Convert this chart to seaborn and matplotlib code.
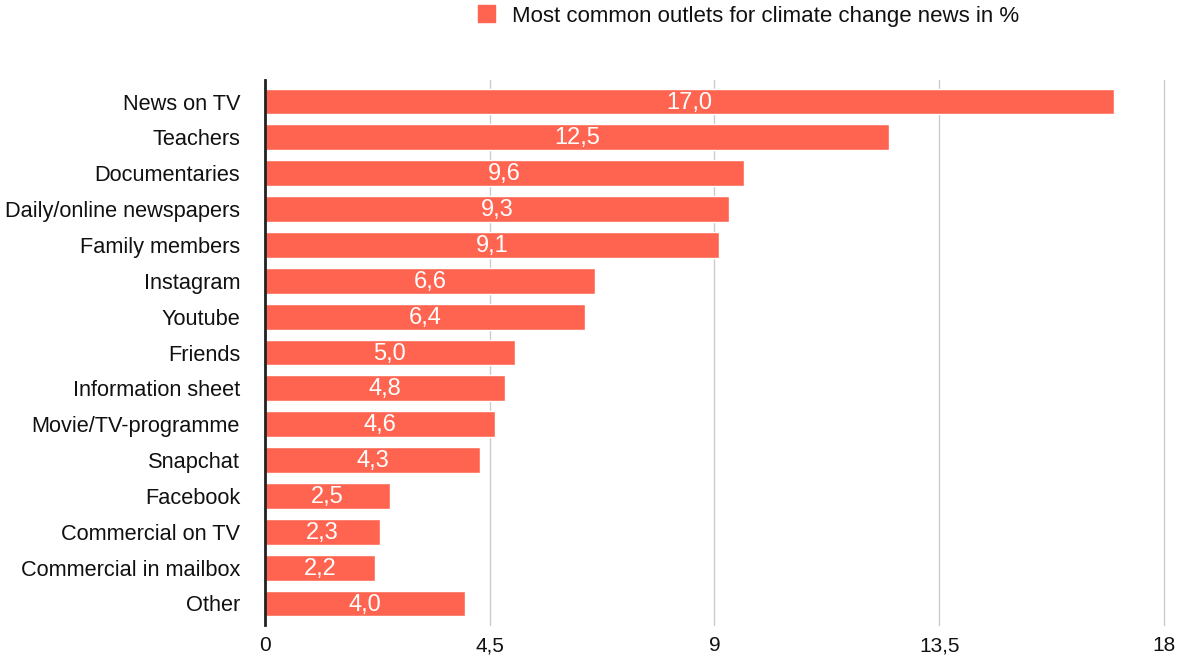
import matplotlib
matplotlib.use("Agg")
import matplotlib.pyplot as plt
from matplotlib.patches import Patch
import seaborn as sns
import pandas as pd

categories = ["News on TV", "Teachers", "Documentaries", "Daily/online newspapers",
              "Family members", "Instagram", "Youtube", "Friends", "Information sheet",
              "Movie/TV-programme", "Snapchat", "Facebook", "Commercial on TV",
              "Commercial in mailbox", "Other"]
values = [17.0, 12.5, 9.6, 9.3, 9.1, 6.6, 6.4, 5.0, 4.8, 4.6, 4.3, 2.5, 2.3, 2.2, 4.0]
ticks = [0, 4.5, 9, 13.5, 18]
tick_labels = ["0", "4,5", "9", "13,5", "18"]
series_name = "Most common outlets for climate change news in %"

bar_color = "#FF6450"

sns.set_style("white")
plt.rcParams["font.family"] = ["Liberation Sans", "DejaVu Sans"]
plt.rcParams["text.color"] = "#111111"

df = pd.DataFrame({"outlet": categories, "share": values})

fig = plt.figure(figsize=(11.8, 6.57), dpi=100)
ax = fig.add_axes([0.2246, 0.0487, 0.7618, 0.8295])

sns.barplot(data=df, x="share", y="outlet", color=bar_color, width=0.72,
            saturation=1, ax=ax, zorder=3)

ax.set_xlim(0, 18)
ax.set_ylim(14.6, -0.6)
ax.set_xticks(ticks)
ax.set_xticklabels(tick_labels, fontsize=15)
ax.tick_params(axis="y", labelsize=15.7, length=0, pad=18, labelcolor="#111111")
ax.tick_params(axis="x", length=0, pad=8, labelcolor="#111111")
ax.set_xlabel("")
ax.set_ylabel("")
ax.xaxis.grid(True, color="#cccccc", linewidth=1, zorder=0)
for gl in ax.get_xgridlines():
    gl.set_clip_on(False)
for s in ["top", "right", "bottom"]:
    ax.spines[s].set_visible(False)
ax.spines["left"].set_color("#222222")
ax.spines["left"].set_linewidth(2)
ax.spines["left"].set_zorder(5)

for i, v in enumerate(values):
    ax.text(v / 2, i + 0.03, f"{v:.1f}".replace(".", ","), color="white", fontsize=17,
            ha="center", va="center", zorder=4)

fig.legend(handles=[Patch(color=bar_color)], labels=[series_name],
           loc="center left", bbox_to_anchor=(478 / 1180, 1 - 16 / 657),
           frameon=False, borderpad=0, borderaxespad=0,
           fontsize=16, handlelength=0.77, handleheight=0.77, handletextpad=0.77)

fig.savefig("out.png", dpi=100)
